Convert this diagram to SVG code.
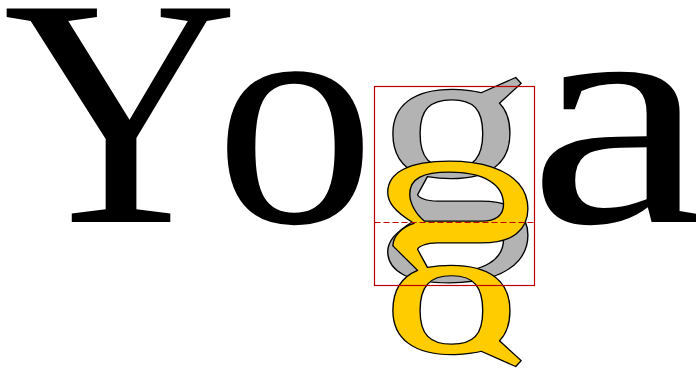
<svg xmlns="http://www.w3.org/2000/svg" width="696" height="370" viewBox="0 0 696 370">
<style>
.t{font-family:"Liberation Serif",serif;font-size:320px}
.blk{fill:#000}
.gl{stroke:#000;stroke-width:1.3;stroke-linejoin:round;vector-effect:non-scaling-stroke}
.box{fill:none;stroke:#c00000;stroke-width:1.2}
</style>
<rect width="696" height="370" fill="#fff"/>
<g id="letter-Y"><text class="t blk" x="3" y="222" style="font-size:326px">Y</text></g>
<g id="letter-o"><text class="t blk" x="215" y="222">o</text></g>
<g id="letter-g-gray" transform="matrix(1,0,0,0.88,0,26.64)"><text class="t gl" x="374" y="222" fill="#b3b3b3">g</text></g>
<g id="letter-g-flipped" transform="matrix(1,0,0,-0.88,0,417.36)"><text class="t gl" x="374" y="222" fill="#ffcc00">g</text></g>
<g id="letter-a" transform="matrix(1.27,0,0,1,-168,0)"><text class="t blk" x="548" y="222">a</text></g>
<g id="bbox">
<rect class="box" x="374.5" y="86.5" width="160" height="199"/>
<line class="box" x1="374.5" y1="222.5" x2="534.5" y2="222.5" stroke-dasharray="6,3"/>
</g>
</svg>
